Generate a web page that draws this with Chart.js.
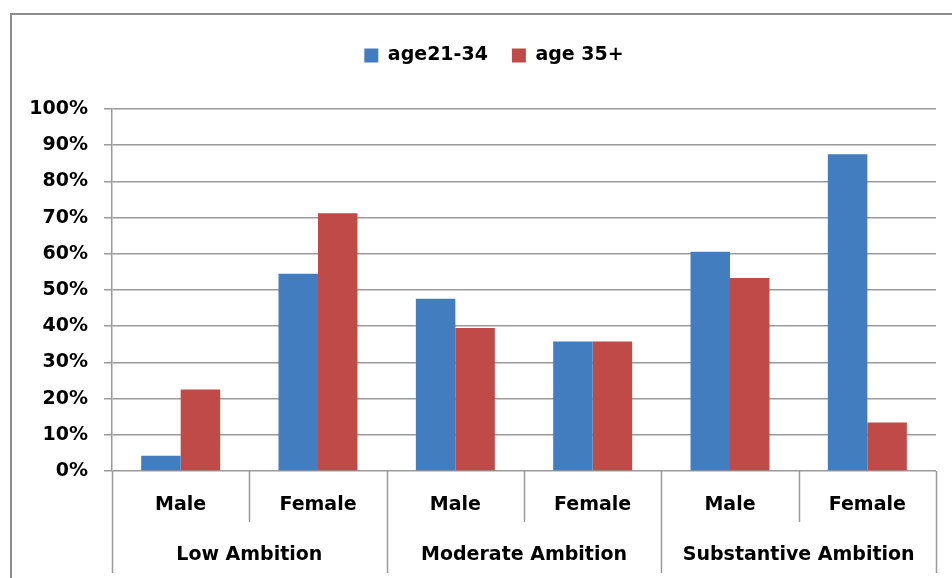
<!DOCTYPE html>
<html>
<head>
<meta charset="utf-8">
<script src="https://cdn.jsdelivr.net/npm/chart.js@4"></script>
<style>
    html, body { margin: 0; padding: 0; background: #fff; overflow: hidden; }
    #frame { position: absolute; left: 10px; top: 13px; width: 1000px; height: 1000px; border: 2px solid #8c8c8c; }
    #wrap { position: absolute; left: 0; top: 0; width: 952px; height: 578px; }
</style>
</head>
<body>
<div id="frame"></div>
<div id="wrap"><canvas id="ambitionChart"></canvas></div>
<script>
// Chart data
const categories = ["Male", "Female", "Male", "Female", "Male", "Female"];
const groups = ["Low Ambition", "Moderate Ambition", "Substantive Ambition"];
const age2134 = [4.2, 54.5, 47.6, 35.8, 60.6, 87.5];
const age35plus = [22.5, 71.2, 39.5, 35.8, 53.3, 13.4];
const yTicks = [0, 10, 20, 30, 40, 50, 60, 70, 80, 90, 100];

Chart.defaults.font.family = "DejaVu Sans";
Chart.defaults.font.weight = "bold";
Chart.defaults.color = "#000";

const gridGray = "#9a9a9a";

// Legend: extra room below it, and centred on the outer frame rather than the canvas
const legendSpacer = {
    id: "legendSpacer",
    beforeInit(chart) {
        const fit = chart.legend.fit;
        chart.legend.fit = function () {
            fit.bind(chart.legend)();
            this.height += 34;
        };
    },
    afterLayout(chart) {
        chart.legend.left += 26;
        chart.legend.right += 26;
    }
};

// Divider lines of the two-level category axis
const axisDividers = {
    id: "axisDividers",
    afterDraw(chart) {
        const x = chart.scales.x;
        const x2 = chart.scales.x2;
        const c = chart.ctx;
        c.save();
        c.strokeStyle = gridGray;
        c.lineWidth = 1.5;
        for (let i = 0; i <= categories.length; i++) {
            const px = Math.round(x.getPixelForValue(i - 0.5)) + 0.5;
            c.beginPath();
            c.moveTo(px, x.top);
            c.lineTo(px, i % 2 === 0 ? x2.bottom : x.bottom);
            c.stroke();
        }
        c.restore();
    }
};

const ctx = document.getElementById("ambitionChart").getContext("2d");
new Chart(ctx, {
    type: "bar",
    data: {
        labels: categories,
        datasets: [
            {
                label: "age21-34",
                data: age2134,
                backgroundColor: "#427dbf",
                barPercentage: 1.0,
                categoryPercentage: 0.575
            },
            {
                label: "age 35+",
                data: age35plus,
                backgroundColor: "#bf4a47",
                barPercentage: 1.0,
                categoryPercentage: 0.575
            }
        ]
    },
    options: {
        responsive: true,
        maintainAspectRatio: false,
        animation: false,
        layout: { padding: { left: 0, right: 16, top: 22, bottom: 5 } },
        plugins: {
            tooltip: { enabled: false },
            legend: {
                position: "top",
                labels: {
                    boxWidth: 14,
                    boxHeight: 14,
                    padding: 24,
                    font: { size: 19, weight: "bold" }
                }
            }
        },
        scales: {
            y: {
                min: 0,
                max: 100,
                afterBuildTicks: (s) => { s.ticks = yTicks.map(v => ({ value: v })); },
                afterFit: (s) => { s.width = 112; },
                ticks: {
                    callback: (v) => v + "%",
                    font: { size: 19, weight: "bold" },
                    padding: 16
                },
                grid: { color: gridGray, lineWidth: 1.5, tickLength: 8 },
                border: { color: gridGray, width: 1.5 }
            },
            x: {
                afterFit: (s) => { s.height = 51; },
                grid: { display: false },
                border: { display: false },
                ticks: { font: { size: 19, weight: "bold" }, padding: 15 }
            },
            x2: {
                type: "category",
                position: "bottom",
                labels: groups,
                offset: true,
                afterFit: (s) => { s.height = 51; },
                grid: { display: false },
                border: { display: false },
                ticks: { font: { size: 19, weight: "bold" }, padding: 14 }
            }
        }
    },
    plugins: [legendSpacer, axisDividers]
});
</script>
</body>
</html>
